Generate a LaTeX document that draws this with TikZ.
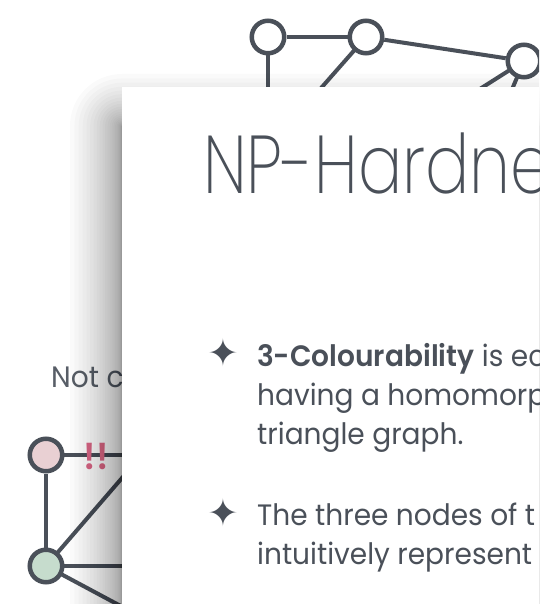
\documentclass[tikz,border=0pt]{standalone}
\usepackage{fontspec}
\IfFontExistsTF{Poppins SemiBold}
  {\setmainfont{Poppins}[BoldFont={Poppins SemiBold}, FakeStretch=0.95]}
  {\setmainfont{Poppins}[FakeStretch=0.95]}
\IfFontExistsTF{Poppins ExtraLight}
  {\newfontfamily\titlefont{Poppins ExtraLight}[FakeStretch=0.8]}
  {\IfFontExistsTF{Poppins Light}
    {\newfontfamily\titlefont{Poppins Light}[FakeStretch=0.8]}
    {\newfontfamily\titlefont{Poppins}[FakeStretch=0.8]}}
\newfontfamily\symbolfont{DejaVu Sans}
\definecolor{ink}{HTML}{4A5059}
\definecolor{softink}{HTML}{585E67}
\definecolor{rosefill}{HTML}{E9D0D3}
\definecolor{sagefill}{HTML}{C6DCCD}
\definecolor{alert}{HTML}{DE6688}
\begin{document}
\begin{tikzpicture}[x=1pt,y=-1pt,
  vertex/.style={circle, draw=ink, line width=4.5pt, minimum size=32.5pt, inner sep=0pt, fill=white},
  link/.style={draw=ink, line width=4pt},
  body/.style={text=ink, inner sep=0pt, anchor=base west, font=\fontsize{29.5}{36}\selectfont},
  bulletmark/.style={text=ink, inner sep=0pt, font=\symbolfont\fontsize{38}{38}\selectfont}]
\useasboundingbox (0,0) rectangle (539,604);
\clip (0,0) rectangle (539,604);
\fill[white] (0,0) rectangle (539,604);

% ---- slide underneath: graph along the top edge ----
\coordinate (ta) at (268,200);
\coordinate (tb) at (278,137);
\coordinate (tc) at (442,113);
\coordinate (td) at (502,113);
\draw[link] (268,37) -- (ta);
\draw[link] (366,37) -- (tb);
\draw[link] (524,61) -- (tc);
\draw[link] (524,61) -- (td);
\node[vertex] (t1) at (268,37) {};
\node[vertex] (t2) at (366,37) {};
\node[vertex] (t3) at (524,61) {};
\draw[link] (t1) -- (t2);
\draw[link] (t2) -- (t3);

% ---- slide underneath: caption and coloured graph ----
\node[text=softink, inner sep=0pt, anchor=base west, font=\fontsize{29.5}{36}\selectfont] (cap) at (51,387) {Not c};
\coordinate (pa) at (220,455);
\coordinate (ga) at (160,434);
\coordinate (gb) at (220,566);
\coordinate (gc) at (160,627);
\draw[link] (46,455) -- (pa);
\draw[link] (46,566) -- (ga);
\draw[link] (46,566) -- (gb);
\draw[link] (46,566) -- (gc);
\node[vertex, fill=rosefill] (p) at (46,455) {};
\node[vertex, fill=sagefill] (g) at (46,566) {};
\draw[link] (p) -- (g);
\node[text=alert, inner sep=0pt, font=\bfseries\fontsize{37}{37}\selectfont] (warn) at (96,456) {!!};

% ---- soft shadow of the front slide: stacked translucent layers,
%      packed densely near the slide edge so the shade falls off quickly ----
\foreach \i in {1,...,25} {
  \pgfmathsetmacro\spread{52*(\i/25)^2.2}
  \fill[black, opacity=0.02, rounded corners=\spread pt]
    ({122-\spread},{126-\spread}) rectangle (700,700);
}

% ---- front slide ----
\fill[white] (122,87) rectangle (620,680);
\node[text=ink, inner sep=0pt, anchor=base west, font=\titlefont\fontsize{82}{82}\selectfont] (title) at (203,193) {NP-Hardne};

\node[bulletmark] (b1) at (223,353) {✦};
\node[body] (l1) at (257,366) {\textbf{3-Colourability} is ec};
\node[body] (l2) at (257,405) {having a homomorp};
\node[body] (l3) at (257,444) {triangle graph.};
\node[bulletmark] (b2) at (223,513) {✦};
\node[body] (l4) at (257,525) {The three nodes of t};
\node[body] (l5) at (257,564) {intuitively represent};
\end{tikzpicture}
\end{document}
